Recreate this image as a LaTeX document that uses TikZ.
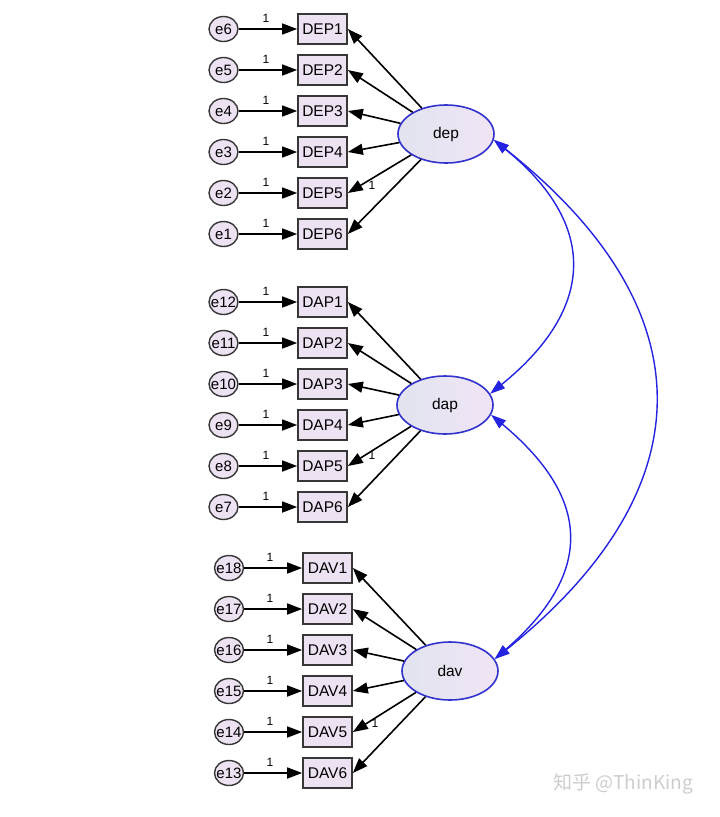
\documentclass[tikz,border=0pt]{standalone}
\usepackage{fontspec}
\setmainfont{Liberation Sans}
\newfontfamily\cjk{Noto Sans CJK SC}
\usepackage{tikz}
\usetikzlibrary{shapes.geometric, arrows.meta, positioning}
\definecolor{boxline}{RGB}{55, 55, 55}
\definecolor{boxfill}{RGB}{236, 226, 242}
\definecolor{latline}{RGB}{50, 50, 205}
\definecolor{latleft}{RGB}{226, 228, 240}
\definecolor{latright}{RGB}{240, 228, 245}
\definecolor{covblue}{RGB}{35, 35, 225}
\definecolor{markgray}{RGB}{205, 205, 205}

\begin{document}
\begin{tikzpicture}[x=1pt, y=-1pt,
  errnode/.style={ellipse, draw=boxline, fill=boxfill, line width=1.4pt,
    minimum width=29pt, minimum height=25pt, inner sep=0pt,
    font=\fontsize{15}{15}\selectfont},
  obsnode/.style={rectangle, draw=boxline, fill=boxfill, line width=1.7pt,
    minimum width=49pt, minimum height=30pt, inner sep=0pt,
    font=\fontsize{15.5}{15.5}\selectfont},
  latnode/.style={ellipse, draw=latline, left color=latleft, right color=latright,
    line width=1.6pt, minimum width=96pt, minimum height=58pt, inner sep=0pt,
    font=\fontsize{15.5}{15.5}\selectfont},
  loadarrow/.style={draw=black, line width=1.6pt,
    -{Triangle[length=15pt, width=11pt]}},
  covarrow/.style={draw=covblue, line width=1.4pt,
    {Triangle[length=15pt, width=10pt]}-{Triangle[length=15pt, width=10pt]}},
  onelabel/.style={font=\fontsize{12}{12}\selectfont, inner sep=0pt}]

\useasboundingbox (0,0) rectangle (720,817);

% Latent factors
\node[latnode] (dep) at (446,134) {dep};
\node[latnode] (dap) at (445,405) {dap};
\node[latnode] (dav) at (450,671) {dav};

% DEP block
\foreach \i [evaluate=\i as \y using 29+41*(\i-1),
             evaluate=\i as \e using int(7-\i)] in {1,...,6} {
  \node[obsnode] (DEP\i) at (322.5,\y) {DEP\i};
  \node[errnode] (e\e) at (223.5,\y) {\makebox[0pt]{e\e}};
  \draw[loadarrow] (e\e) -- (DEP\i);
  \node[onelabel] at (266,\y-11) {1};
  \draw[loadarrow] (dep) -- (DEP\i.east);
}
\node[onelabel] (wdep) at (372,185) {1};

% DAP block
\foreach \i [evaluate=\i as \y using 302+41*(\i-1),
             evaluate=\i as \e using int(13-\i)] in {1,...,6} {
  \node[obsnode] (DAP\i) at (322.5,\y) {DAP\i};
  \node[errnode] (e\e) at (223.5,\y) {\makebox[0pt]{e\e}};
  \draw[loadarrow] (e\e) -- (DAP\i);
  \node[onelabel] at (266,\y-11) {1};
  \draw[loadarrow] (dap) -- (DAP\i.east);
}
\node[onelabel] (wdap) at (372,455) {1};

% DAV block
\foreach \i [evaluate=\i as \y using 568+41*(\i-1),
             evaluate=\i as \e using int(19-\i)] in {1,...,6} {
  \node[obsnode] (DAV\i) at (327.5,\y) {DAV\i};
  \node[errnode] (e\e) at (229,\y) {\makebox[0pt]{e\e}};
  \draw[loadarrow] (e\e) -- (DAV\i);
  \node[onelabel] at (270,\y-11) {1};
  \draw[loadarrow] (dav) -- (DAV\i.east);
}
\node[onelabel] (wdav) at (375,723) {1};

% Covariances
\draw[covarrow] (dep.-7) .. controls +(105,85) and +(105,-85) .. (dap.14);
\draw[covarrow] (dap.-12) .. controls +(102,85) and +(98,-85) .. (dav.15);
\draw[covarrow] (dep.-7) .. controls +(215,170) and +(212,-170) .. (dav.15);

% Watermark
\node[text=markgray, font=\cjk\fontsize{19}{19}\selectfont] (mark) at (623,784) {知乎 @ThinKing};

\end{tikzpicture}
\end{document}
